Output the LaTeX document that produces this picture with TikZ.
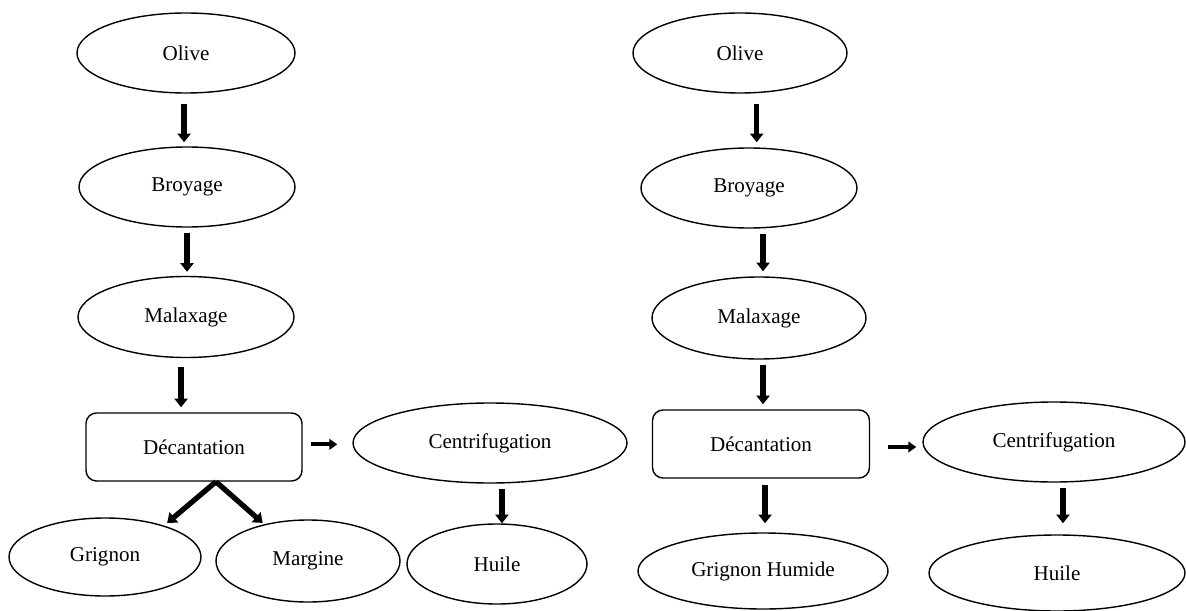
\documentclass[tikz,border=0pt]{standalone}
\usepackage{fontspec}
\setmainfont{Liberation Serif}
\usetikzlibrary{shapes.geometric,arrows.meta}

\def\px{0.02cm}

\begin{document}
\begin{tikzpicture}[x=\px, y=-\px, font=\fontsize{12}{14}\selectfont]
			\tikzset{stage/.style={draw, ellipse, line width=0.8pt, inner sep=0pt},
				tank/.style={draw, rectangle, rounded corners=6pt, line width=0.8pt, inner sep=0pt},
				flow/.style={-{Triangle[width=7.5pt,length=5pt]}, line width=3pt, shorten <=5*\px, shorten >=5*\px},
				side/.style={-{Triangle[width=6pt,length=4.5pt]}, line width=2.2pt}}
			\useasboundingbox (0,0) rectangle (1186,611);
			% voie de gauche
			\node[stage, minimum width=218*\px, minimum height=80*\px](a0) at (186,53){Olive};
			\node[stage, minimum width=216*\px, minimum height=80*\px](a1) at (187,187){Broyage};
			\node[stage, minimum width=216*\px, minimum height=81*\px](a2) at (186,317){Malaxage};
			\node[tank, minimum width=216*\px, minimum height=68*\px](a3) at (194,447){Décantation};
			\node[stage, minimum width=274*\px, minimum height=80*\px](a4) at (490,443){Centrifugation};
			\node[stage, minimum width=180*\px, minimum height=80*\px](a5) at (497,564){Huile};
			\node[stage, minimum width=192*\px, minimum height=78*\px](a6) at (105,557){Grignon};
			\node[stage, minimum width=184*\px, minimum height=82*\px](a7) at (308,561){Margine};
			\draw[flow, shorten <=10*\px, shorten >=4*\px] ([xshift=-1.1pt]a0.south) -- ([xshift=-1.1pt]a0.south |- a1.north);
			\draw[flow, shorten >=4*\px] (a1.south) -- (a1.south |- a2.north);
			\draw[flow, shorten <=9*\px] ([xshift=-2.8pt]a2.south) -- ([xshift=-2.8pt]a2.south |- a3.north);
			\draw[flow, shorten <=0pt, shorten >=4*\px] ([xshift=12.5pt]a3.south) -- (a6.28);
			\draw[flow, shorten <=0pt, shorten >=2*\px] ([xshift=12.5pt]a3.south) -- (a7.140);
			\draw[side, shorten <=8*\px, shorten >=15*\px] ([yshift=1.5pt]a3.east) -- ([yshift=1.5pt]a3.east -| a4.west);
			\draw[flow, shorten >=0pt] ([xshift=6.8pt]a4.south) -- ([xshift=6.8pt]a4.south |- a5.north);
			% voie de droite
			\node[stage, minimum width=214*\px, minimum height=80*\px](b0) at (740,53){Olive};
			\node[stage, minimum width=216*\px, minimum height=80*\px](b1) at (749,188){Broyage};
			\node[stage, minimum width=214*\px, minimum height=82*\px](b2) at (759,318){Malaxage};
			\node[tank, minimum width=217*\px, minimum height=68*\px](b3) at (761,444){Décantation};
			\node[stage, minimum width=262*\px, minimum height=80*\px](b4) at (1054,442){Centrifugation};
			\node[stage, minimum width=256*\px, minimum height=76*\px](b5) at (1057,573){Huile};
			\node[stage, minimum width=250*\px, minimum height=76*\px](b6) at (763,571){Grignon Humide};
			\draw[flow, shorten <=10*\px] ([xshift=9.5pt]b0.south) -- ([xshift=9.5pt]b0.south |- b1.north);
			\draw[flow] ([xshift=8pt]b1.south) -- ([xshift=8pt]b1.south |- b2.north);
			\draw[flow] ([xshift=2.3pt]b2.south) -- ([xshift=2.3pt]b2.south |- b3.north);
			\draw[flow, shorten <=6*\px, shorten >=9*\px] ([xshift=2.3pt]b3.south) -- ([xshift=2.3pt]b3.south |- b6.north);
			\draw[side, shorten <=18*\px, shorten >=6*\px] ([yshift=-1.7pt]b3.east) -- ([yshift=-1.7pt]b3.east -| b4.west);
			\draw[flow, shorten >=11*\px] ([xshift=5.1pt]b4.south) -- ([xshift=5.1pt]b4.south |- b5.north);
		\end{tikzpicture}
\end{document}
